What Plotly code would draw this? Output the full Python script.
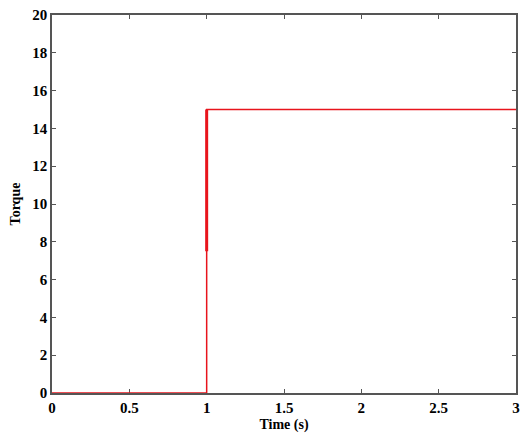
import plotly.graph_objects as go

# step input torque
time_s = [0, 1, 1, 3]
torque = [0, 0, 15, 15]

# the jump is drawn twice in the original, so its upper half looks heavier
jump_time = [1, 1]
jump_torque = [7.5, 15]

fig = go.Figure()
fig.add_trace(go.Scatter(x=time_s, y=torque, mode='lines',
                         line=dict(color='#e8141c', width=1.5), showlegend=False))
fig.add_trace(go.Scatter(x=jump_time, y=jump_torque, mode='lines',
                         line=dict(color='#e8141c', width=3), showlegend=False))

axis_style = dict(showline=True, linecolor='#555555', linewidth=1.5, mirror='allticks',
                  ticks='inside', ticklen=4, tickcolor='#555555', showgrid=False,
                  zeroline=False, layer='below traces',
                  tickfont=dict(family='Liberation Serif', size=15, color='black'))

fig.update_xaxes(range=[0, 3], tickvals=[0, 0.5, 1, 1.5, 2, 2.5, 3],
                 ticktext=['0', '0.5', '1', '1.5', '2', '2.5', '3'],
                 title=dict(text='<b>Time (s)</b>', standoff=4,
                            font=dict(family='Liberation Serif', size=14, color='black')),
                 **axis_style)
fig.update_yaxes(range=[0, 20], dtick=2,
                 title=dict(text='<b>Torque</b>', standoff=8,
                            font=dict(family='Liberation Serif', size=14, color='black')),
                 **axis_style)

fig.update_layout(width=524, height=434, plot_bgcolor='white', paper_bgcolor='white',
                  margin=dict(l=52, r=4, t=15, b=39),
                  font=dict(family='Liberation Serif', size=14, color='black', weight='bold'))

# page body has an 8px margin by default, drop it so the figure sits at 0,0
fig.write_html("out.html", config={'displayModeBar': False},
               post_script="document.body.style.margin='0';")
